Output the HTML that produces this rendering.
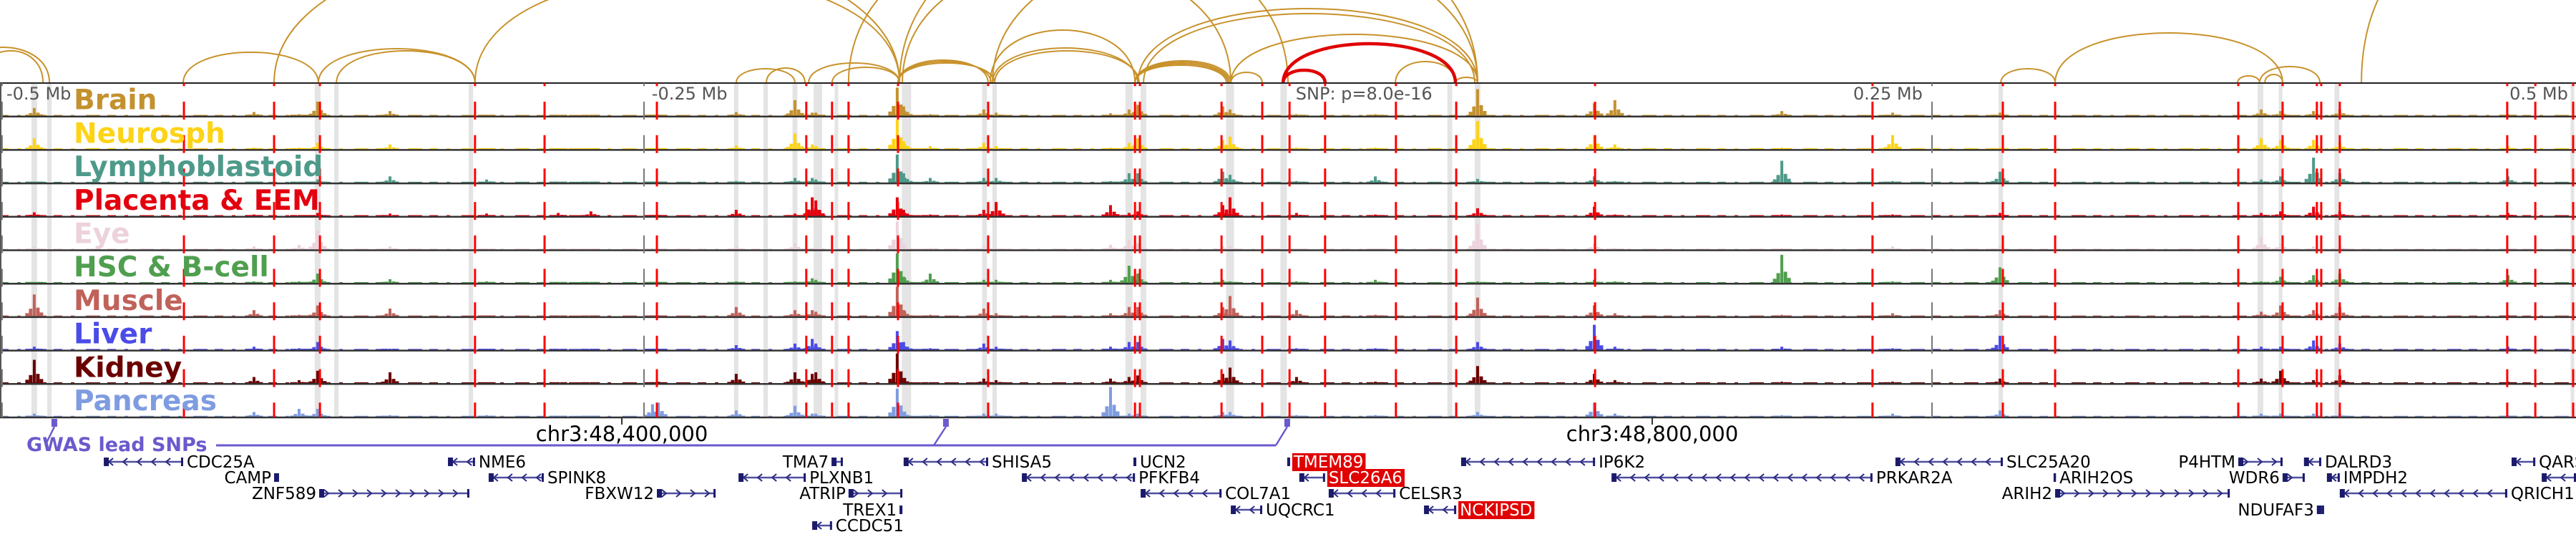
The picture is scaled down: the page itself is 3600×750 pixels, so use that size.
<!DOCTYPE html>
<html><head><meta charset="utf-8">
<style>
html,body{margin:0;padding:0;background:#fff;}
svg{display:block;}
text{font-family:"DejaVu Sans","Liberation Sans",sans-serif;}
</style></head>
<body>
<svg id="chart" width="3600" height="750" viewBox="0 0 3600 750" xmlns="http://www.w3.org/2000/svg">
<rect x="0" y="0" width="3600" height="750" fill="#fff"/>
<g id="arcs"></g>
<g id="bands"></g>
<g id="tracks"></g>
<g id="vlines"></g>
<g id="labels"></g>
<g id="genes"></g>
</svg>
<script>
// positions in kb offset from chr3:48,158,600
const tracks = ["Brain","Neurosph","Lymphoblastoid","Placenta & EEM","Eye","HSC & B-cell","Muscle","Liver","Kidney","Pancreas"];
const trackColors = ["#c4912f","#fdd316","#4e9a8a","#e3000f","#ecd2dc","#4f9f4f","#c0625a","#4b4be8","#6b0000","#7f9ce0"];
const bins = [13.3,98.6,116.1,123.3,151.4,188.9,216.7,229.4,253.3,255.6,285.8,308.6,315.3,316.7,348.3,350.8,361.1,381.9,386.7,431.1,438.3,441.7,474.7,477.5,503.3,533.9,573.6,618.9,626.9,691.7,734.7,776.4,877.8,885.3,898.1,908.3,973.6];
const brainVals = [.25,.12,.05,.45,.15,.03,.03,.03,.03,.03,.12,.5,.1,.1,.9,.3,.05,.2,.1,.08,.2,.35,.3,.2,.05,.05,.85,.4,.5,.15,.1,.1,.2,.15,.15,.2,.05];
const neuroVals = [.35,.05,.05,.2,.15,.03,.02,.02,.03,.03,.12,.5,.15,.1,.95,.25,.1,.2,.1,.05,.2,.35,.3,.4,.05,.05,.9,.45,.15,.05,.45,.05,.35,.3,.3,.2,.1];
const lymphoVals = [.02,.02,.02,.1,.2,.1,.02,.02,.02,.02,.05,.15,.15,.1,.9,.3,.15,.15,.15,.05,.3,.3,.35,.25,.05,.2,.12,.2,.05,.7,.05,.35,.1,.2,.8,.3,.2];
const placentaVals = [.12,.05,.03,.1,.08,.08,.1,.15,.03,.03,.2,.08,.6,.5,.6,.2,.05,.2,.45,.35,.1,.15,.35,.6,.1,.05,.25,.3,.05,.05,.05,.1,.1,.15,.3,.15,.1];
const eyeVals = [.1,.1,.15,.6,.1,.03,.03,.03,.05,.05,.1,.2,.05,.05,.9,.1,.05,.1,.05,.15,.3,.2,.1,.1,.03,.03,.8,.2,.05,.05,.1,.1,.4,.2,.1,.15,.05];
const hscVals = [.02,.05,.05,.3,.12,.05,.02,.02,.02,.02,.05,.05,.15,.1,.95,.2,.3,.1,.1,.1,.55,.3,.1,.05,.05,.1,.05,.1,.05,.9,.05,.5,.05,.2,.25,.3,.25];
const muscleVals = [.7,.2,.05,.35,.25,.03,.02,.02,.03,.03,.3,.2,.2,.15,.95,.2,.05,.25,.1,.1,.3,.3,.3,.65,.2,.05,.6,.35,.1,.05,.1,.2,.15,.35,.2,.3,.05];
const liverVals = [.1,.1,.05,.25,.03,.03,.02,.02,.03,.03,.15,.2,.35,.2,.6,.25,.05,.2,.1,.1,.25,.25,.35,.3,.05,.05,.25,.8,.1,.1,.05,.45,.1,.1,.3,.2,.1];
const kidneyVals = [.75,.2,.1,.4,.35,.03,.03,.03,.03,.05,.3,.35,.3,.35,.95,.15,.03,.15,.1,.15,.2,.25,.3,.5,.2,.05,.55,.3,.1,.05,.05,.15,.15,.4,.1,.25,.05];
const pancreasVals = [.1,.15,.25,.25,.05,.05,.03,.03,.4,.45,.2,.35,.1,.1,.9,.15,.05,.1,.1,.95,.1,.1,.15,.15,.05,.05,.15,.45,.1,.05,.1,.2,.1,.1,.1,.1,.05];
const snpLines = [71.4,106.4,124.2,184.4,211.4,255,313,323,329.4,348.6,383.6,440.6,442.5,474.2,490,500.6,514.4,541.9,565.3,619.2,726.9,777.5,797.8,868.9,886.1,899.4,901.1,908.3,973.3,984.2,998.9];
const bandPos = [13.3,19.2,123.3,130.6,182.8,285.8,297.2,308.6,317.5,324.7,351.9,382.2,386.1,438.3,443.9,477.5,498.3,562.8,573.6,776.7,877.5,885.3,907.2,998.6];
const bandWidthKb = [2.2,1.7,2.2,1.7,1.7,1.7,1.7,1.9,3.3,1.4,3.6,1.9,1.7,2.8,2.2,3.1,2.5,1.9,2.2,1.7,2.2,1.4,1.9,1.4];
const tickLinePos = [0.8,250,750];
const tickLabels = ["-0.5 Mb","-0.25 Mb","SNP: p=8.0e-16","0.25 Mb","0.5 Mb"];
const tickLabelPos = [2.5,253,503,719.4,974.2];
const arcStarts = [-16.7,-8.3,71.1,106.4,123.6,130.6,184.4,285.8,297.5,323,313.9,348.6,348.6,348.6,349.2,350.3,329.4,384.4,385.3,386.1,440.6,440.6,440.6,440.6,441.7,443.9,477.8,477.8,541.7,565,385.3,776.7,797.8,868.6,877.2,879.2,916.7];
const arcEnds = [19.2,16.7,123.6,349.2,184.4,184.4,349.2,308.6,312.5,349.2,349.2,383.6,384.7,386.1,573.6,477.8,500,440.6,441.7,442.2,477.8,477.2,476.7,476.1,573.6,572.5,573.6,490,565,573.6,573.6,797.8,886.1,877.2,900.6,886.1,1013.9];
const arcHeights = [50,45,43,200,48,45,150,20,21,22,28,32,30,28,260,170,220,74,49,45,31,29,27,25,104,97,68,15,30,8,200,20,70,10,23,12,220];
const redArcStarts = [498.1,498.1];
const redArcEnds = [565,514.4];
const redArcHeights = [55,18];
const geneNames = ["CDC25A","CAMP","ZNF589","NME6","SPINK8","FBXW12","TMA7","PLXNB1","ATRIP","TREX1","CCDC51","SHISA5","UCN2","PFKFB4","COL7A1","UQCRC1","TMEM89","SLC26A6","CELSR3","NCKIPSD","IP6K2","PRKAR2A","SLC25A20","ARIH2OS","ARIH2","P4HTM","WDR6","NDUFAF3","DALRD3","IMPDH2","QRICH1","QARS",""];
const geneStarts = [40.3,106.4,123.9,173.9,189.7,255,322.8,286.7,329.4,349.2,315.3,350.8,440,396.7,442.8,477.8,499.7,504.4,515.8,552.8,567.2,625.6,735.8,797.2,797.8,868.9,886.1,899.4,894.4,903.3,908.3,975,986.7];
const geneEnds = [71.1,108.3,182.2,184.4,211.1,277.8,327.2,312.8,350.3,350.3,323,383.6,441.1,440.6,474.2,490,500.8,514.4,541.7,565.3,619.2,726.9,777.5,798.1,865.6,886.1,894.7,902.2,901.1,908.3,973.3,984.2,1000];
const geneRows = [0,1,2,0,1,2,0,1,2,3,4,0,0,1,2,3,0,1,2,3,0,1,0,1,2,0,1,3,0,1,2,0,1];
const geneStrands = ["-","-","+","-","-","+","+","-","+","+","-","-","-","-","-","-","-","-","-","-","-","-","-","-","+","+","+","+","-","-","-","-","-"];
const labelLeft = [0,1,1,0,0,1,1,0,1,1,0,0,0,0,0,0,0,0,0,0,0,0,0,0,1,1,1,1,0,0,0,0,0];
const highlighted = [0,0,0,0,0,0,0,0,0,0,0,0,0,0,0,0,1,1,0,1,0,0,0,0,0,0,0,0,0,0,0,0,0];
const gwasSnps = [21.1,367.2,499.7];
const gwasJoin = [18.1,362.5,495.3];

const NS="http://www.w3.org/2000/svg";
const X = kb => kb*3.6;
const TOP=116, TH=46.7;
function mk(tag, attrs, parent){const e=document.createElementNS(NS,tag);for(const k in attrs)e.setAttribute(k,attrs[k]);parent.appendChild(e);return e;}
const allVals=[brainVals,neuroVals,lymphoVals,placentaVals,eyeVals,hscVals,muscleVals,liverVals,kidneyVals,pancreasVals];

// arcs
const gA=document.getElementById('arcs');
function arc(s,e,h,col,w,name){
  const x1=X(s),x2=X(e),H=h/0.75;
  const p=mk('path',{d:`M${x1},${TOP} C${x1},${TOP-H} ${x2},${TOP-H} ${x2},${TOP}`,fill:'none',stroke:col,'stroke-width':w},gA);
  
  
}
arcStarts.forEach((s,i)=>arc(s,arcEnds[i],arcHeights[i],'#c8922b',2,'interaction-arc'));
redArcStarts.forEach((s,i)=>arc(s,redArcEnds[i],redArcHeights[i],'#e00000',4.5,'snp-interaction-arc'));

// bands
const gB=document.getElementById('bands');
bandPos.forEach((b,i)=>{
  const r=mk('rect',{x:X(b)-X(bandWidthKb[i])/2,y:TOP,width:X(bandWidthKb[i]),height:TH*10,fill:'#e4e4e4'},gB);
  
  
});

// tracks
const gT=document.getElementById('tracks');
tracks.forEach((t,ti)=>{
  const bottom=TOP+TH*(ti+1);
  const g=mk('g',{},gT);
  
  
  const col=trackColors[ti];
  const base=mk('line',{x1:0,x2:3600,y1:bottom-1.5,y2:bottom-1.5,stroke:col,'stroke-width':1.5,'stroke-dasharray':'12 12 5 16 20 10'},g);
  
  
  const vals=allVals[ti];
  bins.forEach((b,bi)=>{
    const v=vals[bi]||0, h=v*(TH-3), cx=X(b);
    [[0,1,4],[-5,0.35,5],[5,0.4,5],[-10,0.15,5],[10,0.18,5]].forEach(s=>{
      const hh=Math.max(1.5,h*s[1]);
      const r=mk('rect',{x:cx+s[0]-s[2]/2,y:bottom-1-hh,width:s[2],height:hh,fill:col},g);
      
      
    });
  });
  const ln=mk('line',{x1:0,x2:3600,y1:bottom,y2:bottom,stroke:'#333','stroke-width':2.5},g);
  
  
});
mk('line',{x1:0,x2:3600,y1:TOP,y2:TOP,stroke:'#222','stroke-width':2,},gT);
mk('line',{x1:1,x2:1,y1:TOP,y2:TOP+TH*10,stroke:'#555','stroke-width':2,},gT);

// vertical lines
const gV=document.getElementById('vlines');
tickLinePos.forEach(p=>{
  const l=mk('line',{x1:X(p),x2:X(p),y1:TOP,y2:TOP+TH*10,stroke:'#777','stroke-width':2,'stroke-dasharray':'25 21.7','stroke-dashoffset':20.7},gV);
  
  
});
snpLines.forEach(p=>{
  const l=mk('line',{x1:X(p),x2:X(p),y1:TOP,y2:TOP+TH*10,stroke:'#ff0000','stroke-width':3,'stroke-dasharray':'25 21.7','stroke-dashoffset':20.7},gV);
  
  
});

// labels
const gL=document.getElementById('labels');
tracks.forEach((t,ti)=>{
  const tx=mk('text',{x:103,y:TOP+TH*(ti+1)-10,fill:trackColors[ti],'font-size':39,'font-weight':'bold'},gL);
  tx.textContent=t;
  
  
});
tickLabels.forEach((t,i)=>{
  const tx=mk('text',{x:X(tickLabelPos[i]),y:TOP+23,fill:'#555','font-size':24},gL);
  tx.textContent=t;
  
  
});

// genomic axis + gwas + genes
const gG=document.getElementById('genes');
[[241.4,"chr3:48,400,000"],[641.4,"chr3:48,800,000"]].forEach(a=>{
  mk('line',{x1:X(a[0]),x2:X(a[0]),y1:583,y2:593,stroke:'#333','stroke-width':2,},gG);
  const tx=mk('text',{x:X(a[0]),y:616,'text-anchor':'middle','font-size':29,fill:'#000'},gG);
  tx.textContent=a[1];
  
  
});
const gw=mk('text',{x:37,y:630,fill:'#6a5acd','font-size':27,'font-weight':'bold'},gG);
gw.textContent='GWAS lead SNPs';


mk('line',{x1:302,x2:X(gwasJoin[2]),y1:622,y2:622,stroke:'#6a5acd','stroke-width':3,},gG);
gwasSnps.forEach((s,i)=>{
  const r=mk('rect',{x:X(s)-4,y:585,width:8,height:11,fill:'#6a5acd'},gG);
  
  
  const l=mk('line',{x1:X(s),y1:596,x2:X(gwasJoin[i]),y2:i==0?618:622,stroke:'#6a5acd','stroke-width':2.5},gG);
  
  
});
const rowY=[645,667,689,712,734];
geneNames.forEach((n,i)=>{
  const g=mk('g',{},gG);
  
  
  const x1=X(geneStarts[i]),x2=X(geneEnds[i]),y=rowY[geneRows[i]];
  mk('line',{x1:x1,x2:x2,y1:y,y2:y,stroke:'#5050a0','stroke-width':2.5},g);
  const d=geneStrands[i]=='+'?1:-1;
  for(let cx=x1+10;cx<x2-6;cx+=20){
    mk('polyline',{points:`${cx-3*d},${y-5} ${cx+3*d},${y} ${cx-3*d},${y+5}`,fill:'none',stroke:'#2a2a80','stroke-width':2},g);
  }
  mk('rect',{x:x1,y:y-6,width:Math.max(3,Math.min(7,x2-x1)),height:12,fill:'#1b1b6b'},g);
  mk('rect',{x:x2-3,y:y-6,width:3,height:12,fill:'#1b1b6b'},g);
  if(!n) return;
  const left=labelLeft[i];
  const tx=mk('text',{x:left?x1-4:x2+5,y:y+8,'font-size':23,fill:highlighted[i]?'#fff':'#000','text-anchor':left?'end':'start'},g);
  tx.textContent=n;
  if(highlighted[i]){
    const w=tx.getComputedTextLength();
    const bg=mk('rect',{x:x2+3,y:y-12,width:w+5,height:25,fill:'#e00000'},g);
    g.insertBefore(bg,tx);
  }
});
</script>
</body></html>
